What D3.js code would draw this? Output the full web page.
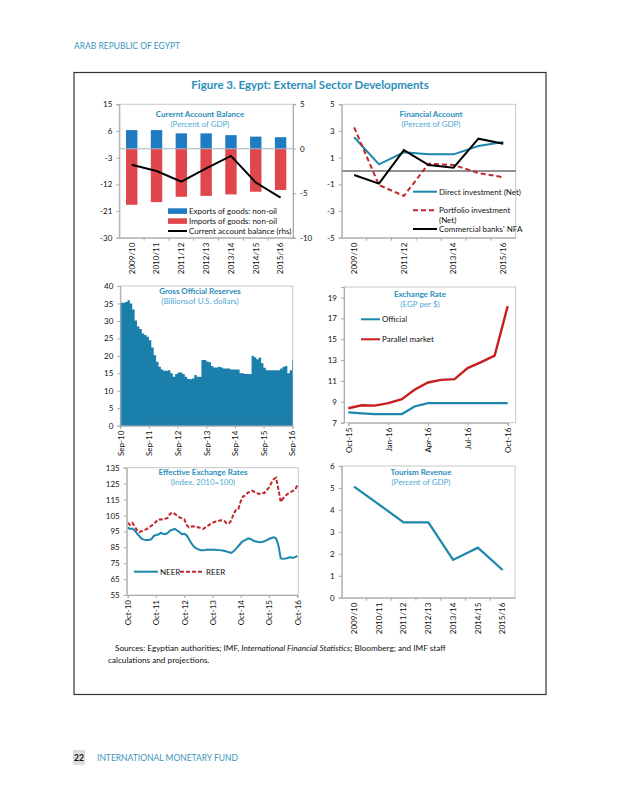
<!doctype html>
<html>
<head>
<meta charset="utf-8" />
<title>Egypt – external sector developments</title>
<script src="https://cdn.jsdelivr.net/npm/d3@7"></script>
<style>
  html,body{margin:0;background:#fff}
  svg{display:block;font-family:Lato,"Open Sans",sans-serif}
  .tick text{font-family:Lato,"Open Sans",sans-serif;font-size:8px;fill:#111}
  .ptitle{font-size:8px;font-weight:700;fill:#2C8EBB;text-anchor:middle}
  .psub{font-size:8px;fill:#4FA8D2;text-anchor:middle}
  .leg{font-size:8px;fill:#111}
</style>
</head>
<body>
<svg id="fig" width="618" height="800"></svg>
<script>
// ---------- data ----------
const fiscalYears   = ["2009/10","2010/11","2011/12","2012/13","2013/14","2014/15","2015/16"];
const exportsNonOil = [6.3, 6.3, 5.2, 5.2, 4.6, 4.1, 3.9];
const importsNonOil = [-18.9, -18.0, -16.2, -15.9, -15.4, -14.5, -13.9];
const currentAcct   = [-1.8, -2.5, -3.7, -2.2, -0.8, -3.8, -5.5];

const directInv     = [2.53, 0.5, 1.4, 1.25, 1.25, 1.87, 2.17];
const portfolioInv  = [3.27, -1.05, -1.87, 0.55, 0.45, -0.15, -0.47];
const banksNFA      = [-0.3, -0.95, 1.57, 0.45, 0.25, 2.42, 2.05];

const tourismRev    = [5.06, 4.25, 3.43, 3.43, 1.72, 2.28, 1.26];

// gross reserves, monthly Sep-10 .. Sep-16
const reserves = [35.2,35.2,35.4,35.9,35.0,33.3,30.1,28.4,27.7,26.4,26.0,25.5,
  24.5,22.4,20.2,18.3,16.9,16.1,15.7,15.7,15.9,15.0,14.0,14.8,
  15.2,15.2,14.8,14.0,13.4,13.3,13.5,14.5,14.0,14.0,18.8,18.8,
  18.4,18.2,17.1,16.7,16.7,16.9,16.7,16.4,16.4,16.4,16.1,16.1,
  16.1,16.1,15.0,15.0,14.8,14.8,14.8,20.0,19.6,19.0,19.5,17.9,
  16.6,15.9,15.9,15.9,15.9,15.9,15.9,16.4,16.9,17.1,15.0,15.9,18.8];
const reserveFloor = 2.1;   // faint dotted line near the bottom

// exchange rate, monthly Oct-15 .. Oct-16
const fxOfficial = [7.98, 7.9, 7.83, 7.83, 7.83, 8.55, 8.88, 8.88, 8.88, 8.88, 8.88, 8.88, 8.88];
const fxParallel = [8.38, 8.67, 8.64, 8.87, 9.25, 10.15, 10.85, 11.1, 11.17, 12.23, 12.8, 13.42, 18.17];

// effective exchange rates, monthly Oct-10 .. Oct-16
const neer = [97.5,96.5,96.8,95.5,93.5,92,90.2,89.8,89.6,89.6,90,92,
  92.7,93,94,93.5,93.2,94,95.5,96,96.6,95.5,94.5,93.2,
  93.5,92.5,90,87.5,85.5,84.5,83.7,83.2,83.2,83.3,83.6,83.5,
  83.4,83.5,83.3,83.2,83,82.8,82.3,81.8,81.5,82.5,84,85.8,
  87.5,89,89.5,90.5,90.3,89.5,88.8,88.5,88.2,88.3,88.8,89.5,
  90.2,90.8,91.2,90.6,86,78,77.8,78,78.3,78.8,78.3,78.8,79.5];
const reer = [100.4,99,100.4,98,95.5,94.5,95.2,95.8,96.3,97.5,98.4,99.5,
  101,102.5,102.6,102.2,103,103.5,106,106.8,106,105,103.8,103.2,
  102.6,99,97.5,98,98.2,97.5,97.5,97,96.5,97.5,98.4,99.5,
  100.4,101,101.2,101.8,102,101.6,100.1,99.8,102,106,108.5,109,
  114,117,117.5,119.3,120,120.6,119.5,118.9,118.5,119.3,119,121,
  122.5,125.5,127.8,128.7,121,113.6,115.8,117.3,118.6,119.5,120.3,121,124];

// tick values
const caLeftTicks  = [15, 6, -3, -12, -21, -30];
const caRightTicks = [5, 0, -5, -10];
const faTicks      = [5, 3, 1, -1, -3, -5];
const resTicks     = [0, 5, 10, 15, 20, 25, 30, 35, 40];
const fxTicks      = [7, 9, 11, 13, 15, 17, 19];
const eerTicks     = [55, 65, 75, 85, 95, 105, 115, 125, 135];
const tourTicks    = [0, 1, 2, 3, 4, 5, 6];
const faLabelYears = ["2009/10","2011/12","2013/14","2015/16"];

// ---------- helpers ----------
const svg = d3.select("#fig");
const TEAL = "#1B87AD", RED = "#C1272D", GRID = "#A9A9A9";
const fmtMon = d3.timeFormat("%b-%y");
const plain = d => String(d);   // hyphen minus like the source, not U+2212

function styleAxis(g){
  g.select(".domain").attr("stroke", GRID);
  g.selectAll(".tick line").attr("stroke", GRID);
}
function rotLabels(g){
  g.selectAll(".tick text").attr("transform","rotate(-90)")
    .attr("x",-5).attr("y",0).attr("dy","0.35em").style("text-anchor","end");
}
function frame(p){
  svg.append("rect").attr("x",p.l).attr("y",p.t).attr("width",p.r-p.l).attr("height",p.b-p.t)
    .attr("fill","none").attr("stroke","#C8C8C8");
}
function titles(cx, y, t, s){
  svg.append("text").attr("class","ptitle").attr("x",cx).attr("y",y).text(t);
  svg.append("text").attr("class","psub").attr("x",cx).attr("y",y+10).text(s);
}
function yLeft(p, y, vals){
  svg.append("g").attr("transform",`translate(${p.l},0)`)
    .call(d3.axisLeft(y).tickValues(vals).tickFormat(plain).tickSize(3).tickPadding(4)).call(styleAxis);
}
function bandTicks(p, x){
  // small category-separator ticks below the axis
  svg.append("g").selectAll("line").data(x.domain().slice(1)).join("line")
    .attr("x1",d=>x(d)-x.step()*x.paddingInner()/2).attr("x2",d=>x(d)-x.step()*x.paddingInner()/2)
    .attr("y1",p.b).attr("y2",p.b+3).attr("stroke",GRID);
}
function legLine(x1, x2, y, color, dash, label){
  svg.append("line").attr("x1",x1).attr("x2",x2).attr("y1",y).attr("y2",y)
    .attr("stroke",color).attr("stroke-width",2).attr("stroke-dasharray",dash);
  if(label) svg.append("text").attr("class","leg").attr("x",x2+2).attr("y",y).attr("dy","0.35em").text(label);
}

// ---------- page furniture ----------
svg.append("text").attr("x",74).attr("y",49).attr("font-size",8.5).attr("fill","#3A96BA").text("ARAB REPUBLIC OF EGYPT");
svg.append("rect").attr("x",74).attr("y",72.5).attr("width",472).attr("height",622)
  .attr("fill","none").attr("stroke","#333").attr("stroke-width",1.2);
svg.append("text").attr("x",310).attr("y",89).attr("text-anchor","middle").attr("font-size",11.5)
  .attr("font-weight",700).attr("fill","#2C8EBB").text("Figure 3. Egypt: External Sector Developments");

// ---------- panel 1: current account ----------
{
  const p = {l:119.3, r:293, t:104.3, b:237.7};
  const x = d3.scaleBand().domain(fiscalYears).range([p.l,p.r]).paddingInner(0.54).paddingOuter(0.27);
  const y = d3.scaleLinear().domain([-30,15]).range([p.b,p.t]);
  const y2 = d3.scaleLinear().domain([-10,5]).range([p.b,p.t]);
  frame(p);
  svg.append("g").selectAll("rect").data(fiscalYears).join("rect")
    .attr("x",d=>x(d)).attr("width",x.bandwidth())
    .attr("y",(d,i)=>y(exportsNonOil[i])).attr("height",(d,i)=>y(0)-y(exportsNonOil[i])).attr("fill","#1F7CC3");
  svg.append("g").selectAll("rect").data(fiscalYears).join("rect")
    .attr("x",d=>x(d)).attr("width",x.bandwidth())
    .attr("y",y(0)).attr("height",(d,i)=>y(importsNonOil[i])-y(0)).attr("fill","#E0474C");
  svg.append("line").attr("x1",p.l).attr("x2",p.r).attr("y1",y(0)).attr("y2",y(0)).attr("stroke","#9FB3C4");
  svg.append("path").datum(currentAcct)
    .attr("d",d3.line().x((d,i)=>x(fiscalYears[i])+x.bandwidth()/2).y(d=>y2(d)))
    .attr("fill","none").attr("stroke","#000").attr("stroke-width",2);
  yLeft(p, y, caLeftTicks);
  svg.append("g").attr("transform",`translate(${p.r},0)`)
    .call(d3.axisRight(y2).tickValues(caRightTicks).tickFormat(plain).tickSize(3).tickPadding(4)).call(styleAxis);
  svg.append("g").attr("transform",`translate(0,${p.b})`)
    .call(d3.axisBottom(x).tickSize(0).tickPadding(5)).call(styleAxis).call(rotLabels);
  bandTicks(p, x);
  titles(200, 117, "Curernt Account Balance", "(Percent of GDP)");
  const lg = [["#1F7CC3","Exports of goods: non-oil"],["#E0474C","Imports of goods: non-oil"]];
  lg.forEach((d,i)=>{
    svg.append("rect").attr("x",168).attr("y",208.3+i*10).attr("width",19).attr("height",5.6).attr("fill",d[0]);
    svg.append("text").attr("class","leg").attr("x",189).attr("y",211.2+i*10).attr("dy","0.35em").text(d[1]);
  });
  legLine(168, 187, 231, "#000", null, "Current account balance (rhs)");
}

// ---------- panel 2: financial account ----------
{
  const p = {l:341.7, r:515.7, t:104.3, b:237.7};
  const x = d3.scaleBand().domain(fiscalYears).range([p.l,p.r]).paddingInner(0.54).paddingOuter(0.27);
  const y = d3.scaleLinear().domain([-5,5]).range([p.b,p.t]);
  const cx = (d,i)=>x(fiscalYears[i])+x.bandwidth()/2;
  frame(p);
  svg.append("line").attr("x1",p.l).attr("x2",p.r).attr("y1",y(0)).attr("y2",y(0)).attr("stroke","#222");
  const line = d3.line().x(cx).y(d=>y(d));
  [[directInv,TEAL,null],[portfolioInv,RED,"5,3"],[banksNFA,"#000",null]].forEach(s=>{
    svg.append("path").datum(s[0]).attr("d",line).attr("fill","none")
      .attr("stroke",s[1]).attr("stroke-width",2).attr("stroke-dasharray",s[2]);
  });
  yLeft(p, y, faTicks);
  svg.append("g").attr("transform",`translate(0,${p.b})`)
    .call(d3.axisBottom(x).tickValues(faLabelYears).tickSize(0).tickPadding(5)).call(styleAxis).call(rotLabels);
  bandTicks(p, x);
  titles(431, 117, "Financial Account", "(Percent of GDP)");
  legLine(413, 437, 191.7, TEAL, null, "Direct investment (Net)");
  legLine(413, 437, 210.3, RED, "5,3", "Portfolio investment");
  svg.append("text").attr("class","leg").attr("x",439).attr("y",220).attr("dy","0.35em").text("(Net)");
  legLine(413, 437, 229, "#000", null, "Commercial banks' NFA");
}

// ---------- panel 3: gross official reserves ----------
{
  const p = {l:120.3, r:292.7, t:286, b:425.7};
  const months = d3.timeMonth.range(new Date(2010,8,1), new Date(2016,9,1));
  const x = d3.scaleLinear().domain([0, months.length-1+0.24]).range([p.l,p.r]);
  const y = d3.scaleLinear().domain([0,40]).range([p.b,p.t]);
  frame(p);
  const pts = reserves.map((v,i)=>({i, v})).concat([{i:reserves.length-1+0.24, v:reserves[reserves.length-1]}]);
  svg.append("path").datum(pts)
    .attr("d",d3.area().curve(d3.curveStepAfter).x(d=>x(d.i)).y0(y(0)).y1(d=>y(d.v)))
    .attr("fill","#1A80AB");
  svg.append("line").attr("x1",x(10.4)).attr("x2",p.r).attr("y1",y(reserveFloor)).attr("y2",y(reserveFloor))
    .attr("stroke","#2A5A70").attr("stroke-opacity",0.55).attr("stroke-width",0.6).attr("stroke-dasharray","1.5,1.2");
  yLeft(p, y, resTicks);
  const sepIdx = months.map((m,i)=>i).filter(i=>months[i].getMonth()===8);
  svg.append("g").attr("transform",`translate(0,${p.b})`)
    .call(d3.axisBottom(x).tickValues(sepIdx).tickFormat(i=>fmtMon(months[i])).tickSize(3).tickPadding(5))
    .call(styleAxis).call(rotLabels);
  titles(200, 294, "Gross Official Reserves", "(Billionsof U.S. dollars)");
}

// ---------- panel 4: exchange rate ----------
{
  const p = {l:344, r:515.7, t:287, b:422.7};
  const months = d3.timeMonth.range(new Date(2015,9,1), new Date(2016,10,1));
  const x = d3.scaleTime().domain([months[0], months[months.length-1]]).range([348.3, 507.7]);
  const y = d3.scaleLinear().domain([7,20]).range([p.b,p.t]);
  frame(p);
  const line = d3.line().x((d,i)=>x(months[i])).y(d=>y(d));
  svg.append("path").datum(fxOfficial).attr("d",line).attr("fill","none").attr("stroke",TEAL).attr("stroke-width",2.2);
  svg.append("path").datum(fxParallel).attr("d",line).attr("fill","none").attr("stroke","#C81E1E").attr("stroke-width",2.4);
  yLeft(p, y, fxTicks);
  svg.append("g").attr("transform",`translate(0,${p.b})`)
    .call(d3.axisBottom(x).tickValues(months.filter((m,i)=>i%3===0)).tickFormat(fmtMon).tickSize(3).tickPadding(5))
    .call(styleAxis).call(rotLabels);
  titles(420, 296.5, "Exchange Rate", "(EGP per $)");
  legLine(361, 380, 319.3, TEAL, null, "Official");
  legLine(361, 380, 339.3, "#C81E1E", null, "Parallel market");
}

// ---------- panel 5: effective exchange rates ----------
{
  const p = {l:126.7, r:298.3, t:467.7, b:595};
  const months = d3.timeMonth.range(new Date(2010,9,1), new Date(2016,10,1));
  const x = d3.scaleTime().domain([months[0], months[months.length-1]]).range([127.7, 297.3]);
  const y = d3.scaleLinear().domain([55,135]).range([p.b,p.t]);
  frame(p);
  const line = d3.line().x((d,i)=>x(months[i])).y(d=>y(d));
  svg.append("path").datum(neer).attr("d",line).attr("fill","none").attr("stroke",TEAL).attr("stroke-width",2);
  svg.append("path").datum(reer).attr("d",line).attr("fill","none").attr("stroke",RED).attr("stroke-width",2).attr("stroke-dasharray","4,2");
  yLeft(p, y, eerTicks);
  svg.append("g").attr("transform",`translate(0,${p.b})`)
    .call(d3.axisBottom(x).tickValues(months.filter(m=>m.getMonth()===9)).tickFormat(fmtMon).tickSize(3).tickPadding(5))
    .call(styleAxis).call(rotLabels);
  titles(203, 475, "Effective Exchange Rates", "(Index, 2010=100)");
  legLine(134, 158, 571.7, TEAL, null, "NEER");
  legLine(180, 204, 571.7, RED, "4,2", "REER");
}

// ---------- panel 6: tourism revenue ----------
{
  const p = {l:341.7, r:515, t:466, b:597.7};
  const x = d3.scaleBand().domain(fiscalYears).range([p.l,p.r]).paddingInner(0.54).paddingOuter(0.27);
  const y = d3.scaleLinear().domain([0,6]).range([p.b,p.t]);
  frame(p);
  svg.append("path").datum(tourismRev)
    .attr("d",d3.line().x((d,i)=>x(fiscalYears[i])+x.bandwidth()/2).y(d=>y(d)))
    .attr("fill","none").attr("stroke",TEAL).attr("stroke-width",2.2);
  yLeft(p, y, tourTicks);
  svg.append("g").attr("transform",`translate(0,${p.b})`)
    .call(d3.axisBottom(x).tickSize(0).tickPadding(5)).call(styleAxis).call(rotLabels);
  bandTicks(p, x);
  titles(421, 475, "Tourism Revenue", "(Percent of GDP)");
}

// ---------- sources and footer ----------
const src = svg.append("text").attr("x",115).attr("y",651).attr("font-size",8.2).attr("fill","#111");
src.append("tspan").text("Sources: Egyptian authorities; IMF, ");
src.append("tspan").attr("font-style","italic").text("International Financial Statistics");
src.append("tspan").text("; Bloomberg; and IMF staff");
svg.append("text").attr("x",108).attr("y",663).attr("font-size",8.2).attr("fill","#111").text("calculations and projections.");

svg.append("rect").attr("x",73).attr("y",750).attr("width",12).attr("height",15).attr("fill","#DCDCDC");
svg.append("text").attr("x",74).attr("y",761).attr("font-size",8.5).attr("font-weight",700).attr("fill","#111").text("22");
svg.append("text").attr("x",97).attr("y",761).attr("font-size",8.5).attr("fill","#3A96BA").text("INTERNATIONAL MONETARY FUND");
</script>
</body>
</html>
